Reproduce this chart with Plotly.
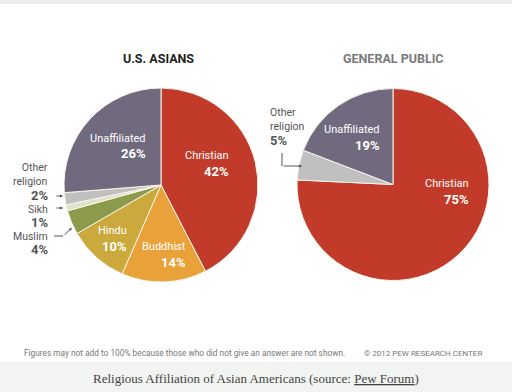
import plotly.graph_objects as go

W, H = 512, 392

# ---- data ----
asian_labels = ["Christian", "Buddhist", "Hindu", "Muslim", "Sikh", "Other religion", "Unaffiliated"]
asian_values = [42, 14, 10, 4, 1, 2, 26]
public_labels = ["Christian", "Other religion", "Unaffiliated"]
public_values = [75, 5, 19]

colors = {
    "Christian": "#c23b2a",
    "Buddhist": "#e9a23a",
    "Hindu": "#cba93d",
    "Muslim": "#8b9a4b",
    "Sikh": "#dfe1cb",
    "Other religion": "#bfc0bf",
    "Unaffiliated": "#716a7f",
}

def px(x):
    return x / W

def py(y):
    return 1 - y / H

line_col = "#fbf4ea"

fig = go.Figure()
fig.add_trace(go.Pie(
    labels=asian_labels, values=asian_values, sort=False, direction="clockwise",
    rotation=0, textinfo="none", hoverinfo="label+value",
    marker=dict(colors=[colors[l] for l in asian_labels], line=dict(color=line_col, width=1)),
    domain=dict(x=[px(64), px(258)], y=[py(282), py(88)]), showlegend=False,
))
fig.add_trace(go.Pie(
    labels=public_labels, values=public_values, sort=False, direction="clockwise",
    rotation=0, textinfo="none", hoverinfo="label+value",
    marker=dict(colors=[colors[l] for l in public_labels], line=dict(color=line_col, width=1)),
    domain=dict(x=[px(297), px(489)], y=[py(281), py(88)]), showlegend=False,
))

SANS = "Roboto, Liberation Sans, Arial, sans-serif"
ann = []

def txt(x, y, s, size=11, color="white", bold=False, xanchor="right", align="right", family=SANS):
    if bold:
        s = "<b>" + s + "</b>"
    ann.append(dict(x=px(x), y=py(y), xref="paper", yref="paper", text=s, showarrow=False,
                    font=dict(size=size, color=color, family=family),
                    xanchor=xanchor, yanchor="middle", align=align))

def val(labels, values, name):
    return values[labels.index(name)]

# titles
txt(158, 59, "U.S. ASIANS", size=12.5, color="#1e1e1e", bold=True, xanchor="center", align="center")
txt(393, 59, "GENERAL PUBLIC", size=12.5, color="#7a7a7a", bold=True, xanchor="center", align="center")

# left pie inside labels
txt(148, 138, "Unaffiliated", size=11)
txt(148, 154, "%d%%" % val(asian_labels, asian_values, "Unaffiliated"), size=13, bold=True)
txt(231, 155, "Christian", size=11)
txt(231, 171, "%d%%" % val(asian_labels, asian_values, "Christian"), size=13, bold=True)
txt(129, 230, "Hindu", size=11)
txt(129, 246, "%d%%" % val(asian_labels, asian_values, "Hindu"), size=13, bold=True)
txt(188, 247, "Buddhist", size=11)
txt(188, 262, "%d%%" % val(asian_labels, asian_values, "Buddhist"), size=13, bold=True)

# left pie outside labels
g = "#555555"
txt(50, 174, "Other<br>religion", size=10.5, color=g)
txt(50, 195, "%d%%" % val(asian_labels, asian_values, "Other religion"), size=13, color=g, bold=True)
txt(50, 209, "Sikh", size=10.5, color=g)
txt(50, 222, "%d%%" % val(asian_labels, asian_values, "Sikh"), size=13, color=g, bold=True)
txt(50, 236, "Muslim", size=10.5, color=g)
txt(50, 249, "%d%%" % val(asian_labels, asian_values, "Muslim"), size=13, color=g, bold=True)

# right pie inside labels
txt(382, 129, "Unaffiliated", size=11)
txt(382, 145, "%d%%" % val(public_labels, public_values, "Unaffiliated"), size=13, bold=True)
txt(471, 183, "Christian", size=11)
txt(471, 199, "%d%%" % val(public_labels, public_values, "Christian"), size=13, bold=True)

# right pie outside labels
txt(268, 119, "Other<br>religion", size=10.5, color=g, xanchor="left", align="left")
txt(268, 141, "%d%%" % val(public_labels, public_values, "Other religion"), size=13, color=g, bold=True,
    xanchor="left", align="left")

# arrows (leader lines)
def arrow(x, y, ax, ay):
    ann.append(dict(x=px(x), y=py(y), xref="paper", yref="paper", text="", showarrow=True,
                    ax=ax, ay=ay, arrowhead=2, arrowsize=0.6, arrowwidth=1, arrowcolor="#555555"))

arrow(63, 196, -8, 0)
arrow(63, 208, -8, 0)
arrow(72, 228, -9, 8)
arrow(302, 166, -20, 0)

shapes = [
    dict(type="rect", xref="paper", yref="paper", x0=0, x1=1, y0=py(4), y1=1,
         fillcolor="#eceeeb", line=dict(width=0), layer="below"),
    dict(type="rect", xref="paper", yref="paper", x0=0, x1=1, y0=0, y1=py(362),
         fillcolor="#f2f4f1", line=dict(width=0), layer="below"),
    dict(type="line", xref="paper", yref="paper", x0=px(54), x1=px(63), y0=py(236), y1=py(236),
         line=dict(color="#555555", width=1)),
    dict(type="line", xref="paper", yref="paper", x0=px(282), x1=px(282), y0=py(153), y1=py(166),
         line=dict(color="#555555", width=1)),
]

# footnotes
txt(22, 353, "Figures may not add to 100% because those who did not give an answer are not shown.",
    size=8.3, color="#777777", xanchor="left", align="left")
txt(484, 353, "© 2012 PEW RESEARCH CENTER", size=8, color="#777777")

# caption
ann.append(dict(x=0.5, y=py(378), xref="paper", yref="paper",
                text="Religious Affiliation of Asian Americans (source: <u>Pew Forum</u>)",
                showarrow=False, xanchor="center", yanchor="middle",
                font=dict(size=13, color="#444444", family="Liberation Serif, DejaVu Serif, serif")))

fig.update_layout(
    width=W, height=H, margin=dict(l=0, r=0, t=0, b=0),
    paper_bgcolor="white", plot_bgcolor="white",
    annotations=ann, shapes=shapes, showlegend=False,
)

fig.write_html("out.html", config={"displayModeBar": False},
               post_script="document.body.style.margin='0';document.body.style.overflow='hidden';")
